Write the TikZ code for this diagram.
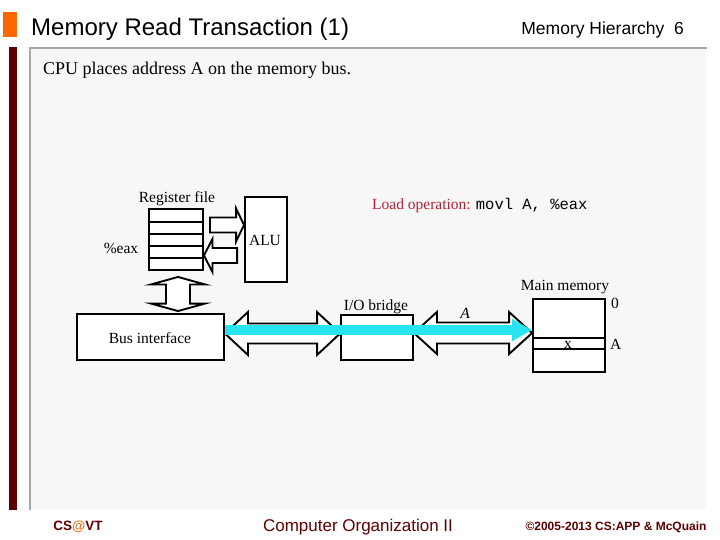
\documentclass[tikz,border=0pt]{standalone}
\usepackage{fontspec}
\setmainfont{Liberation Serif}
\setmonofont{Liberation Mono}
\newfontfamily\arialf{Liberation Sans}
\usetikzlibrary{arrows.meta,calc}
\definecolor{maroon}{RGB}{96,0,0}
\definecolor{barred}{RGB}{92,0,0}
\definecolor{orangesq}{RGB}{255,102,0}
\definecolor{atorange}{RGB}{232,119,34}
\definecolor{panelgray}{RGB}{247,247,247}
\definecolor{bordergray}{RGB}{166,166,166}
\definecolor{loadred}{RGB}{178,34,52}
\definecolor{buscyan}{RGB}{40,228,238}
\newcommand\dsize{\fontsize{15.5}{18}\selectfont}
% horizontal double block arrow: left tip, right tip, head length, head half width, shaft half width
\newcommand\hdblarrow[5]{%
  \draw[blockarrow] let \p1=#1, \p2=#2 in
   (\x1,\y1) -- (\x1+#3pt,\y1+#4pt) -- (\x1+#3pt,\y1+#5pt) -- (\x2-#3pt,\y1+#5pt)
   -- (\x2-#3pt,\y1+#4pt) -- (\x2,\y1) -- (\x2-#3pt,\y1-#4pt) -- (\x2-#3pt,\y1-#5pt)
   -- (\x1+#3pt,\y1-#5pt) -- (\x1+#3pt,\y1-#4pt) -- cycle;}
% vertical double block arrow: top tip, bottom tip, head length, head half width, shaft half width
\newcommand\vdblarrow[5]{%
  \draw[blockarrow] let \p1=#1, \p2=#2 in
   (\x1,\y1) -- (\x1+#4pt,\y1-#3pt) -- (\x1+#5pt,\y1-#3pt) -- (\x1+#5pt,\y2+#3pt)
   -- (\x1+#4pt,\y2+#3pt) -- (\x1,\y2) -- (\x1-#4pt,\y2+#3pt) -- (\x1-#5pt,\y2+#3pt)
   -- (\x1-#5pt,\y1-#3pt) -- (\x1-#4pt,\y1-#3pt) -- cycle;}
% right-pointing single block arrow: tail, tip
\newcommand\rarrow[5]{%
  \draw[blockarrow] let \p1=#1, \p2=#2 in
   (\x1,\y2+#5pt) -- (\x2-#3pt,\y2+#5pt) -- (\x2-#3pt,\y2+#4pt) -- (\x2,\y2)
   -- (\x2-#3pt,\y2-#4pt) -- (\x2-#3pt,\y2-#5pt) -- (\x1,\y2-#5pt) -- cycle;}
% left-pointing single block arrow: tail, tip
\newcommand\larrow[5]{%
  \draw[blockarrow] let \p1=#1, \p2=#2 in
   (\x1,\y2+#5pt) -- (\x2+#3pt,\y2+#5pt) -- (\x2+#3pt,\y2+#4pt) -- (\x2,\y2)
   -- (\x2+#3pt,\y2-#4pt) -- (\x2+#3pt,\y2-#5pt) -- (\x1,\y2-#5pt) -- cycle;}
\begin{document}
\begin{tikzpicture}[x=1pt,y=-1pt,
  box/.style={draw=black,line width=1.9pt,fill=white,inner sep=0pt},
  blockarrow/.style={draw=black,line width=1.9pt,fill=white,line join=miter},
  lbl/.style={inner sep=0pt,font=\dsize},
  cyanarrow/.style={draw=buscyan,line width=10pt,-{Triangle[length=20pt,width=21pt]}}]
\useasboundingbox (0,0) rectangle (720,540);
\fill[white] (0,0) rectangle (720,540);
% header
\fill[orangesq] (3,12) rectangle (17,37);
\node[anchor=base west,inner sep=0pt,font=\arialf\fontsize{24}{28}\selectfont] (title) at (31,36) {Memory Read Transaction (1)};
\node[anchor=base east,inner sep=0pt,font=\arialf\fontsize{17.5}{20}\selectfont] (section) at (684,35) {Memory Hierarchy\ \ 6};
% panel
\fill[barred] (9,47) rectangle (17,510);
\fill[panelgray] (30,48) rectangle (706,510);
\draw[bordergray,line width=2.5pt] (30,510) -- (30,48) -- (707,48);
\node[anchor=base west,inner sep=0pt,font=\fontsize{18}{21}\selectfont] (intro) at (43,75) {CPU places address A on the memory bus.};
% boxes
\node[box,minimum width=54pt,minimum height=61pt] (reg) at (176,239.5) {};
\foreach \yy in {221.7,234,246,258}
  \draw[line width=1.9pt] (reg.west |- 0,\yy) -- (reg.east |- 0,\yy);
\node[lbl,anchor=base] (reglbl) at (177,203) {Register file};
\node[lbl,anchor=base] (eax) at (121,254) {\%eax};
\node[box,minimum width=42pt,minimum height=85pt] (alu) at (266,239.5) {};
\node[lbl,anchor=base] (alulbl) at (265,245) {ALU};
\node[lbl,anchor=base west] (load) at (372,210) {\textcolor{loadred}{Load operation:} \texttt{movl A, \%eax}};
\node[box,minimum width=147pt,minimum height=46pt] (busif) at (150.5,337) {};
\node[lbl,anchor=base] (buslbl) at (150,343) {Bus interface};
\node[box,minimum width=72pt,minimum height=45pt] (bridge) at (377,337.5) {};
\node[lbl,anchor=base] (bridgelbl) at (376,310) {I/O bridge};
\node[box,minimum width=72pt,minimum height=73pt] (mem) at (569,335.5) {};
\draw[line width=1.9pt] (mem.west |- 0,338) -- (mem.east |- 0,338);
\draw[line width=1.9pt] (mem.west |- 0,349) -- (mem.east |- 0,349);
\node[lbl,anchor=base] (memlbl) at (565,290) {Main memory};
\node[lbl,anchor=base] (xval) at (568,348) {x};
\node[lbl,anchor=base west] (zero) at (611,308) {0};
\node[lbl,anchor=base west] (addrA) at (610,349) {A};
\node[lbl,anchor=base] (busA) at (465,318) {\itshape A};
% block arrows
\rarrow{([xshift=6pt]reg.east)}{([yshift=14.5pt]alu.west)}{8}{16.5}{7.5}
\larrow{([xshift=-7pt]alu.west)}{([yshift=-16pt]reg.east)}{8.5}{16.5}{7.5}
\vdblarrow{([shift={(2pt,-6pt)}]reg.south)}{([yshift=2pt]busif.north)}{7.5}{27}{12}
\hdblarrow{([yshift=3.5pt]busif.east)}{(bridge.west)}{23}{21.5}{10}
\hdblarrow{([yshift=4.5pt]bridge.east)}{(mem.west)}{23}{21}{10.5}
% cyan address flow
\draw[cyanarrow] ([yshift=7pt]busif.east) -- ([yshift=5.5pt]mem.west);
% footer
\node[anchor=base,inner sep=0pt,font=\arialf\bfseries\fontsize{13.5}{16}\selectfont,text=maroon] (cs) at (78,530) {CS\textcolor{atorange}{@}VT};
\node[anchor=base,inner sep=0pt,font=\arialf\fontsize{17}{20}\selectfont,text=maroon] (course) at (358,531) {Computer Organization II};
\node[anchor=base,inner sep=0pt,font=\arialf\bfseries\fontsize{12}{14}\selectfont,text=maroon] (copy) at (616,530) {©2005-2013 CS:APP \& McQuain};
\end{tikzpicture}
\end{document}
